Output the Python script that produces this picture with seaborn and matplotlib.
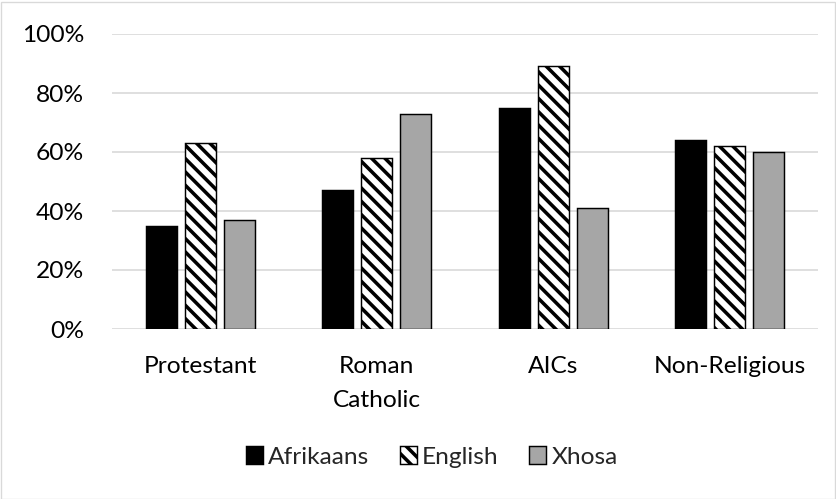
import matplotlib
matplotlib.use("Agg")
import matplotlib.pyplot as plt
import seaborn as sns
import pandas as pd
from matplotlib.patches import Rectangle
from matplotlib.ticker import PercentFormatter

categories = ["Protestant", "Roman\nCatholic", "AICs", "Non-Religious"]
languages = ["Afrikaans", "English", "Xhosa"]
afrikaans = [35, 47, 75, 64]
english = [63, 58, 89, 62]
xhosa = [37, 73, 41, 60]
yticks = [0, 20, 40, 60, 80, 100]

rows = []
for lang, vals in zip(languages, [afrikaans, english, xhosa]):
    for c, v in zip(categories, vals):
        rows.append({"category": c, "language": lang, "value": v})
df = pd.DataFrame(rows)

sns.set_theme(style="white")
plt.rcParams["font.family"] = ["Lato", "DejaVu Sans"]
plt.rcParams["hatch.linewidth"] = 3.2
plt.rcParams["hatch.color"] = "black"

DPI = 80
FS = 22
fig = plt.figure(figsize=(836 / DPI, 499 / DPI), dpi=DPI)
ax = fig.add_axes([112 / 836, 1 - 329 / 499, (818 - 112) / 836, (329 - 34) / 499])

palette = {"Afrikaans": "#000000", "English": "#ffffff", "Xhosa": "#a6a6a6"}
sns.barplot(data=df, x="category", y="value", hue="language", order=categories,
            hue_order=languages, palette=palette, width=0.66, gap=0.2,
            edgecolor="black", linewidth=1.3, ax=ax, legend=False, zorder=3)

for p in ax.containers[1]:
    p.set_hatch("\\\\")

ax.set_xlim(-0.5, 3.5)
ax.set_ylim(0, 100)
ax.set_yticks(yticks)
ax.yaxis.set_major_formatter(PercentFormatter(decimals=0))
ax.grid(axis="y", color="#d9d9d9", linewidth=1.5, zorder=0)
ax.set_axisbelow(True)
for s in ax.spines.values():
    s.set_visible(False)
ax.set_xlabel("")
ax.set_ylabel("")
ax.tick_params(axis="both", length=0, labelsize=FS, colors="black")
ax.tick_params(axis="x", pad=24.5)
ax.tick_params(axis="y", pad=25)
for t in ax.get_xticklabels():
    t.set_linespacing(1.75)

fig.legend(handles=list(ax.containers), labels=languages, loc="center",
           bbox_to_anchor=(432 / 836, 1 - 457 / 499), ncol=3, frameon=False,
           fontsize=FS, handlelength=0.7, handleheight=0.7, handletextpad=0.2,
           columnspacing=1.25)

fig.patches.append(Rectangle((0.5 / 836, 0.5 / 499), 1 - 2 / 836, 1 - 2 / 499,
                             transform=fig.transFigure, fill=False,
                             edgecolor="#d9d9d9", linewidth=1.2))

fig.savefig("out.png", dpi=DPI)
